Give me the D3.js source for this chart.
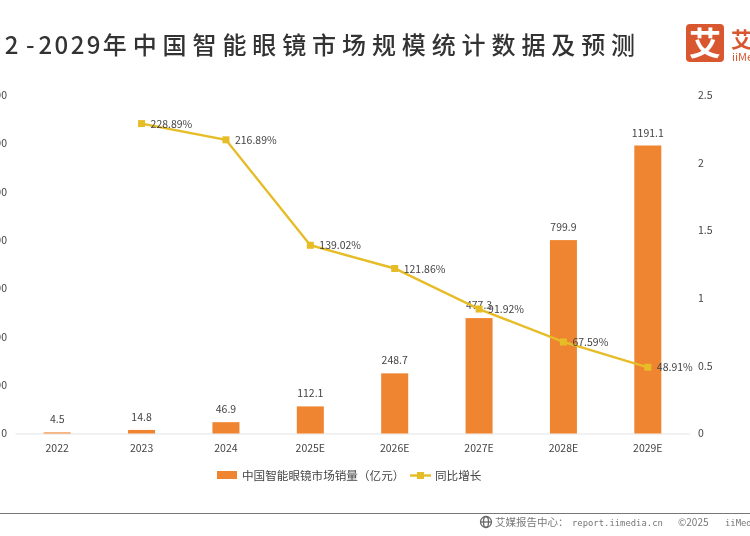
<!DOCTYPE html>
<html>
<head>
<meta charset="utf-8">
<script src="https://cdn.jsdelivr.net/npm/d3@7"></script>
<style>
html, body { margin: 0; padding: 0; background: #fff; overflow: hidden; }
text { font-family: "Noto Sans CJK SC", "Noto Sans", sans-serif; }
svg { filter: blur(0.35px); }
</style>
</head>
<body>
<div id="chart"></div>
<script>
const years = ["2022", "2023", "2024", "2025E", "2026E", "2027E", "2028E", "2029E"];
const sales = [4.5, 14.8, 46.9, 112.1, 248.7, 477.3, 799.9, 1191.1];
const salesLabels = ["4.5", "14.8", "46.9", "112.1", "248.7", "477.3", "799.9", "1191.1"];
const growth = [null, 2.2889, 2.1689, 1.3902, 1.2186, 0.9192, 0.6759, 0.4891];
const growthLabels = ["", "228.89%", "216.89%", "139.02%", "121.86%", "91.92%", "67.59%", "48.91%"];
const leftTicks = [0, 200, 400, 600, 800, 1000, 1200, 1400];
const rightTicks = [0, 0.5, 1, 1.5, 2, 2.5];

const orange = "#ef8531";
const yellow = "#e6bc27";
const textColor = "#444";

const svg = d3.select("#chart").append("svg")
    .attr("width", 750)
    .attr("height", 536)
    .style("display", "block");

// the picture is a crop, the title and left axis run off the edge
const title = svg.append("text")
    .attr("x", 641)
    .attr("y", 54)
    .attr("text-anchor", "end")
    .style("font-size", "24px")
    .style("font-weight", 500)
    .style("fill", "#333");
title.append("tspan")
    .style("letter-spacing", "4.5px")
    .text("2022");
title.append("tspan")
    .attr("dx", 3)
    .style("letter-spacing", "4px")
    .text("-");
title.append("tspan")
    .style("letter-spacing", "2.4px")
    .text("2029");
title.append("tspan")
    .style("letter-spacing", "5.9px")
    .text("年中国智能眼镜市场规模统计数据及预测");

//logo
const logo = svg.append("g");
logo.append("rect")
    .attr("x", 686)
    .attr("y", 24)
    .attr("width", 38)
    .attr("height", 38)
    .attr("rx", 4)
    .style("fill", "#d9572f");
logo.append("text")
    .attr("x", 705)
    .attr("y", 55)
    .attr("text-anchor", "middle")
    .style("font-size", "32px")
    .style("font-weight", 700)
    .style("fill", "#fff")
    .text("艾");
logo.append("text")
    .attr("x", 731)
    .attr("y", 47)
    .style("font-size", "21px")
    .style("font-weight", 700)
    .style("fill", "#d9572f")
    .text("艾媒");
logo.append("text")
    .attr("x", 732)
    .attr("y", 61)
    .style("font-size", "11px")
    .style("fill", "#d9572f")
    .text("iiMedia");

//scales
const x = d3.scaleBand()
    .domain(years)
    .range([15, 690]);

const yLeft = d3.scaleLinear()
    .domain([0, 1400])
    .range([433.5, 95]);

const yRight = d3.scaleLinear()
    .domain([0, 2.5])
    .range([433.5, 95]);

//axes, no lines, only labels
const xAxis = svg.append("g")
    .attr("transform", "translate(0,433.5)")
    .call(d3.axisBottom(x).tickSize(0).tickPadding(11));
xAxis.select(".domain").style("stroke", "#e4e4e4");

const leftAxis = svg.append("g")
    .attr("transform", "translate(15,0)")
    .call(d3.axisLeft(yLeft).tickValues(leftTicks).tickFormat(d3.format("d")).tickSize(0).tickPadding(8));
leftAxis.select(".domain").remove();

const rightAxis = svg.append("g")
    .attr("transform", "translate(690,0)")
    .call(d3.axisRight(yRight).tickValues(rightTicks).tickFormat(d => d).tickSize(0).tickPadding(8));
rightAxis.select(".domain").remove();

svg.selectAll(".tick text")
    .style("font-family", '"Noto Sans CJK SC", sans-serif')
    .style("font-size", "10.5px")
    .style("fill", textColor);

//bars
svg.append("g")
    .selectAll("rect")
    .data(years)
    .enter()
    .append("rect")
    .attr("x", d => x(d) + x.bandwidth() / 2 - 13.5)
    .attr("y", (d, i) => yLeft(sales[i]))
    .attr("width", 27)
    .attr("height", (d, i) => yLeft(0) - yLeft(sales[i]))
    .style("fill", orange);

svg.append("g")
    .selectAll("text")
    .data(years)
    .enter()
    .append("text")
    .attr("x", d => x(d) + x.bandwidth() / 2)
    .attr("y", (d, i) => yLeft(sales[i]) - 9)
    .attr("text-anchor", "middle")
    .style("font-size", "10.5px")
    .style("fill", textColor)
    .text((d, i) => salesLabels[i]);

//growth line
const lineYears = years.filter((d, i) => growth[i] !== null);
const line = d3.line()
    .x(d => x(d) + x.bandwidth() / 2)
    .y(d => yRight(growth[years.indexOf(d)]));

svg.append("path")
    .datum(lineYears)
    .attr("d", line)
    .style("fill", "none")
    .style("stroke", yellow)
    .style("stroke-width", 2.4);

svg.append("g")
    .selectAll("rect")
    .data(lineYears)
    .enter()
    .append("rect")
    .attr("x", d => x(d) + x.bandwidth() / 2 - 3.5)
    .attr("y", d => yRight(growth[years.indexOf(d)]) - 3.5)
    .attr("width", 7)
    .attr("height", 7)
    .style("fill", yellow);

svg.append("g")
    .selectAll("text")
    .data(lineYears)
    .enter()
    .append("text")
    .attr("x", d => x(d) + x.bandwidth() / 2 + 9)
    .attr("y", d => yRight(growth[years.indexOf(d)]) + 4)
    .style("font-size", "10.5px")
    .style("fill", textColor)
    .text(d => growthLabels[years.indexOf(d)]);

//legend
const legend = svg.append("g");
legend.append("rect")
    .attr("x", 217)
    .attr("y", 471)
    .attr("width", 20)
    .attr("height", 8)
    .style("fill", orange);
legend.append("text")
    .attr("x", 242)
    .attr("y", 480)
    .style("font-size", "11.6px")
    .style("fill", textColor)
    .text("中国智能眼镜市场销量（亿元）");
legend.append("line")
    .attr("x1", 410)
    .attr("x2", 431)
    .attr("y1", 475.5)
    .attr("y2", 475.5)
    .style("stroke", yellow)
    .style("stroke-width", 2.4);
legend.append("rect")
    .attr("x", 417)
    .attr("y", 472)
    .attr("width", 7)
    .attr("height", 7)
    .style("fill", yellow);
legend.append("text")
    .attr("x", 435)
    .attr("y", 480)
    .style("font-size", "11.6px")
    .style("fill", textColor)
    .text("同比增长");

//footer
svg.append("line")
    .attr("x1", 0)
    .attr("x2", 750)
    .attr("y1", 513.5)
    .attr("y2", 513.5)
    .style("stroke", "#777")
    .style("stroke-width", 1);
const globe = svg.append("g")
    .style("fill", "none")
    .style("stroke", "#666")
    .style("stroke-width", 1.3);
globe.append("circle")
    .attr("cx", 486)
    .attr("cy", 522)
    .attr("r", 5.5);
globe.append("ellipse")
    .attr("cx", 486)
    .attr("cy", 522)
    .attr("rx", 2.5)
    .attr("ry", 5.5);
globe.append("line")
    .attr("x1", 480.5)
    .attr("x2", 491.5)
    .attr("y1", 522)
    .attr("y2", 522);
svg.append("text")
    .attr("x", 495)
    .attr("y", 526)
    .style("font-size", "10.5px")
    .style("fill", "#777")
    .text("艾媒报告中心：");
svg.append("text")
    .attr("x", 572)
    .attr("y", 526)
    .style("font-family", '"DejaVu Sans Mono", monospace')
    .style("font-size", "8.9px")
    .style("fill", "#777")
    .text("report.iimedia.cn");
svg.append("text")
    .attr("x", 678)
    .attr("y", 526)
    .style("font-size", "10px")
    .style("fill", "#777")
    .text("©2025");
svg.append("text")
    .attr("x", 725)
    .attr("y", 526)
    .style("font-family", '"DejaVu Sans Mono", monospace')
    .style("font-size", "8.9px")
    .style("fill", "#777")
    .text("iiMedia");
</script>
</body>
</html>
